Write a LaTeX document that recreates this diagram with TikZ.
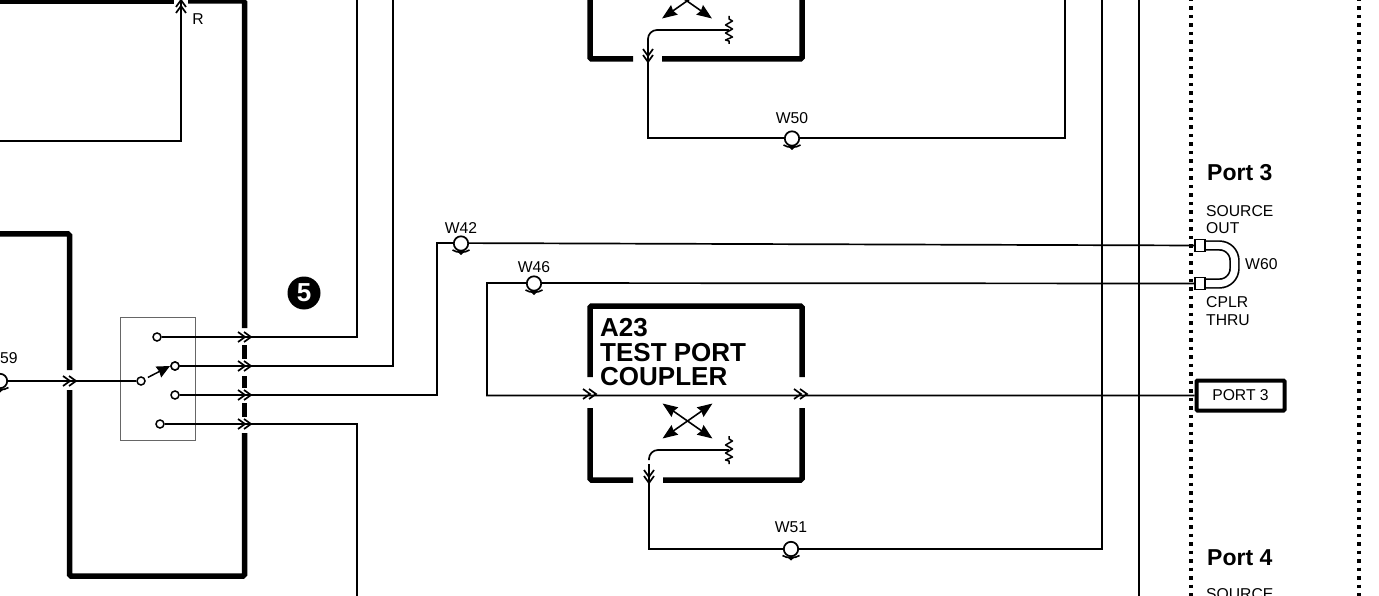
\documentclass[tikz,border=0pt]{standalone}
\usepackage{fontspec}
\setmainfont{Liberation Sans}
\usetikzlibrary{arrows.meta}
\tikzset{
  thickbox/.style={line width=5.5pt,rounded corners=1.5pt},
  wire/.style={line width=1.7pt,line join=miter},
  contact/.style={circle,draw,fill=white,line width=1.5pt,minimum size=8pt,inner sep=0pt},
  portsq/.style={draw,fill=white,line width=1.5pt,minimum width=10pt,minimum height=12pt,inner sep=0pt},
  dotline/.style={line width=3.8pt,dash pattern=on 3.5pt off 5pt},
  lbl/.style={font=\fontsize{15.7}{18}\selectfont,inner sep=0pt},
  head/.style={font=\fontsize{23}{24}\selectfont\bfseries,inner sep=0pt},
  dbl/.pic={\draw[line width=1.7pt,line join=miter] (-13,-5)--(-6,0)--(-13,5) (-7,-5)--(0,0)--(-7,5);},
  wloop/.pic={
    \draw[fill=white,line width=1.7pt] (0,0) circle(7.2);
    \draw[line width=1.6pt] (-8.5,6.5) .. controls (-4,9.5) and (4,9.5) .. (8.5,6.5);
    \fill (-4.5,7.5)--(4.5,7.5)--(0,11.5)--cycle;},
  xarrows/.pic={
    \foreach \a/\b in {-25/-17.5,25/-17.5,-25/17.5,25/17.5}
      \draw[-{Stealth[length=15pt,width=11.5pt,inset=1.5pt]},line width=1.6pt] (0,0)--(\a,\b);},
  resist/.pic={\draw[line width=1.5pt,line join=round] (0,-14)--(0,-11)--(3.5,-9)--(-3.5,-5)--(3.5,-1)--(-3.5,3)--(3.5,7)--(-3.5,10)--(0,11)--(0,14);}
}
\begin{document}
\begin{tikzpicture}[x=1pt,y=-1pt]
  \useasboundingbox (0,0) rectangle (1379,596);
  \clip (0,0) rectangle (1379,596);
  % puntos de paso
  \coordinate (wireA) at (357,-2);
  \coordinate (wireB) at (393,-2);
  \coordinate (wireC) at (357,598);
  \coordinate (bendA) at (437,243);
  \coordinate (bendB) at (487,283);
  \coordinate (bendC) at (1065,-2);
  \coordinate (bendD) at (1102,-2);
  \coordinate (inL) at (-2,381);
  \coordinate (inR) at (-2,141);
  \coordinate (upR) at (181,141);
  % selector
  \draw[gray!80!black,line width=0.8pt] (120,317) rectangle (195,440);
  \node[contact] (ctA) at (157,337){};
  \node[contact] (ctB) at (175,366){};
  \node[contact] (ctC) at (175,395){};
  \node[contact] (ctD) at (160,424){};
  \node[contact] (ctP) at (141,381){};
  % conectores y puerto
  \node[portsq] (sqA) at (1200,245.5){};
  \node[portsq] (sqB) at (1200,283.5){};
  \draw[wire] (inL) -- (ctP);
  \draw[wire] (ctA) -| (wireA);
  \draw[wire] (ctB) -| (wireB);
  \draw[wire] (ctD) -| (wireC);
  \draw[wire] (inR) -- (upR) -- (181,2);
  \draw[wire] (ctC) -| (bendA) -- (sqA);
  \draw[wire] (1139,-2) -- (1139,598);
  \draw[dotline] (1191,-2) -- (1191,598);
  \draw[dotline] (1359,-2) -- (1359,598);
  \node[draw,fill=white,line width=4pt,rounded corners=1pt,minimum width=88pt,minimum height=30pt,inner sep=0pt,font=\fontsize{15.7}{18}\selectfont] (portC) at (1240.5,395.5){PORT 3};
  \draw[wire] (sqB) -- (bendB) |- (portC);
  \draw[wire,rounded corners=9pt] (729,30) -- (648,30) -- (648,62);
  \draw[wire] (648,62) -- (648,138) -| (bendC);
  \draw[wire,rounded corners=9pt] (729,450) -- (649,450) -- (649,460);
  \draw[wire] (649,464) -- (649,549) -| (bendD);
  % brazo del selector
  \draw[line width=1.5pt,-{Stealth[length=13pt,width=12pt,inset=1pt]},shorten <=3pt] (ctP) -- (170,366);
  \node[contact] at (ctB){};
  % bloque izquierdo
  \draw[thickbox] (-3,1) -- (174,1);
  \draw[thickbox] (188,1) -- (244.5,1) -- (244.5,328);
  \foreach \a/\b in {345/359,376/388,403/417} \draw[line width=5.5pt] (244.5,\a) -- (244.5,\b);
  \draw[thickbox] (244.5,433) -- (244.5,576) -- (69.5,576) -- (69.5,390);
  \draw[thickbox] (69.5,370) -- (69.5,234) -- (-3,234);
  % acopladores
  \draw[thickbox] (590,-3) -- (590,59) -- (633,59);
  \draw[thickbox] (662,59) -- (802,59) -- (802,-3);
  \draw[thickbox] (590,377) -- (590,306) -- (802,306) -- (802,377);
  \draw[thickbox] (590,408) -- (590,480) -- (633,480);
  \draw[thickbox] (663,480) -- (802,480) -- (802,408);
  \pic at (687,1){xarrows};
  \pic at (687.5,421){xarrows};
  \pic at (729,30){resist};
  \pic at (729,450){resist};
  \foreach \y in {337,366,395,424} \pic at (251,\y){dbl};
  \pic at (76,381){dbl};
  \pic at (596,394){dbl};
  \pic at (807,394){dbl};
  \pic[rotate=-90] at (648,62){dbl};
  \pic[rotate=-90] at (649,483){dbl};
  \pic[rotate=90] at (181,0){dbl};
  % bucles de cable
  \pic at (0,381){wloop};
  \pic at (461,243.5){wloop};
  \pic at (534,283.5){wloop};
  \pic at (792,138.5){wloop};
  \pic at (791,549){wloop};
  % W60
  \draw[line width=1.7pt,double,double distance=7pt,rounded corners=15pt] (sqA.east) -- (1234.5,245.5) -- (1234.5,283.5) -- (sqB.east);
  \node[portsq] at (sqA){};
  \node[portsq] at (sqB){};
  % numero
  \node[circle,fill=black,text=white,minimum size=33pt,inner sep=0pt,font=\fontsize{26}{26}\selectfont\bfseries] (numFive) at (304,293){5};
  % textos
  \node[lbl] (lblR) at (198,19){R};
  \node[lbl,anchor=west] (lblNine) at (0,358){59};
  \node[lbl] (lblAa) at (461,228){W42};
  \node[lbl] (lblAb) at (534,267){W46};
  \node[lbl] (lblAc) at (792,118){W50};
  \node[lbl] (lblAd) at (791,527){W51};
  \node[lbl,anchor=west] (lblAe) at (1245,264){W60};
  \node[head,anchor=west] (portThree) at (1207,173){Port 3};
  \node[head,anchor=west] (portFour) at (1207,558){Port 4};
  \node[lbl,anchor=base west] (srcA) at (1206,216.6){SOURCE};
  \node[lbl,anchor=base west] (outA) at (1206,234){OUT};
  \node[lbl,anchor=base west] (cplA) at (1206,307.6){CPLR};
  \node[lbl,anchor=base west] (thrA) at (1206,325){THRU};
  \node[lbl,anchor=base west] (srcB) at (1206,599.6){SOURCE};
  \node[anchor=north west,inner sep=0pt,align=left,font=\fontsize{26}{24.5}\selectfont\bfseries] (cplName) at (600,318.5){A23\\TEST PORT\\COUPLER};
\end{tikzpicture}
\end{document}
